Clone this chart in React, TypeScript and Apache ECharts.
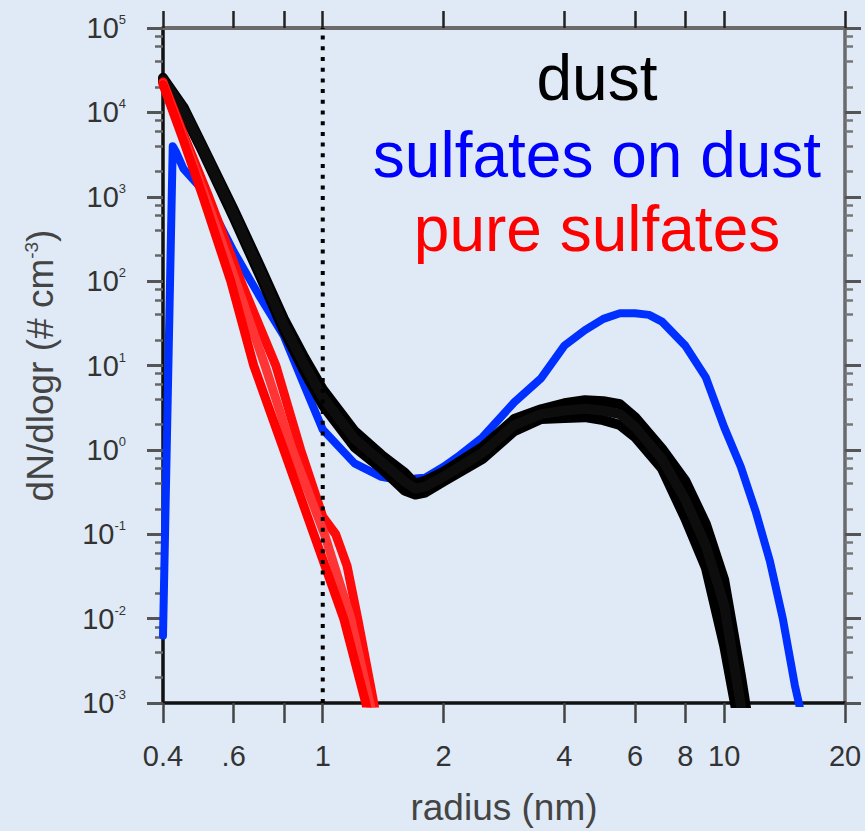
import React, { useEffect, useRef } from 'react';
import * as echarts from 'echarts';

// ---- axis ticks / labels ----
const xTickValues = [0.4, 0.6, 0.8, 1, 2, 4, 6, 8, 10, 20];
const xLabelValues = [0.4, 0.6, 1, 2, 4, 6, 8, 10, 20];
const xLabelTexts = ['0.4', '.6', '1', '2', '4', '6', '8', '10', '20'];
const yDecades = [-3, -2, -1, 0, 1, 2, 3, 4, 5];
const yMinorMultipliers = [2, 4, 6, 8];
const xMin = 0.4;
const xMax = 20;
const refRadius = 1;

// ---- dust (black ensemble) ----
const radiusDust = [0.4, 0.45, 0.5, 0.6, 0.7, 0.8, 0.9, 1.0, 1.2, 1.4, 1.6, 1.7, 1.8, 2.0, 2.5, 3, 3.5, 4, 4.5, 5, 5.5, 6, 7, 8, 9, 10, 11, 12];
const dustUpper = [2.57e4, 1.15e4, 4.17e3, 708, 146, 35.7, 12.4, 5.22, 1.67, 0.873, 0.536, 0.398, 0.431, 0.551, 1.08, 2.32, 3.03, 3.57, 3.87, 3.77, 3.47, 2.44, 1.03, 0.431, 0.133, 0.0288, 0.00214, 1.6e-4];
const dustMid = [2.44e4, 1.057e4, 3.87e3, 631, 127.6, 30.3, 10.2, 4.21, 1.35, 0.723, 0.421, 0.348, 0.367, 0.481, 0.923, 1.97, 2.65, 2.92, 3.08, 2.92, 2.65, 1.86, 0.78, 0.258, 0.0733, 0.0146, 9.5e-4, 5e-5];
const dustLower = [2.31e4, 9.75e3, 3.57e3, 566, 111, 25.8, 8.47, 3.39, 1.08, 0.598, 0.33, 0.296, 0.312, 0.421, 0.78, 1.67, 2.32, 2.38, 2.44, 2.25, 1.97, 1.42, 0.6, 0.154, 0.0404, 0.0048, 4.2e-4, 1.6e-5];

// ---- sulfates on dust (blue) ----
const radiusSod = [0.4, 0.423, 0.43, 0.45, 0.5, 0.6, 0.7, 0.8, 0.9, 1.0, 1.2, 1.4, 1.6, 1.7, 1.8, 2.0, 2.2, 2.5, 3, 3.5, 4, 4.5, 5, 5.5, 6, 6.5, 7, 8, 9, 10, 11, 12, 13, 14, 15, 16];
const sulfOnDust = [0.0063, 3.98e3, 3.47e3, 2.14e3, 1.23e3, 224, 63.1, 22.4, 5.75, 1.74, 0.692, 0.479, 0.427, 0.457, 0.468, 0.631, 0.871, 1.41, 3.67, 7.08, 17.2, 26.3, 35.7, 41.7, 41.7, 39.8, 33.1, 17.2, 7.23, 1.86, 0.631, 0.182, 0.0479, 0.01, 0.00162, 4.17e-4];

// ---- pure sulfates (red ensemble) ----
const radiusSulfA = [0.4, 0.45, 0.503, 0.59, 0.673, 0.8, 0.95, 1.128, 1.28, 1.33];
const pureSulfA = [2.14e4, 4.6e3, 1e3, 100, 10, 1, 0.1, 0.01, 0.001, 4e-4];
const radiusSulfB = [0.4, 0.45, 0.51, 0.607, 0.718, 0.84, 1.01, 1.175, 1.31, 1.37];
const pureSulfB = [2.2e4, 5e3, 1e3, 100, 10, 1, 0.1, 0.01, 0.001, 4e-4];
const radiusSulfC = [0.4, 0.45, 0.52, 0.625, 0.764, 0.881, 1.0, 1.077, 1.15, 1.222, 1.34, 1.4];
const pureSulfC = [2.3e4, 5.5e3, 1e3, 100, 10, 1, 0.162, 0.1, 0.042, 0.01, 0.001, 3e-4];

const legendTexts = ['dust', 'sulfates on dust', 'pure sulfates'];
const legendColors = ['#000000', '#0000ff', '#ff0000'];

const FONT = "'Liberation Sans', Arial, Helvetica, sans-serif";

const toXY = (rs: number[], vs: number[]) => rs.map((r, i) => [Math.log10(r), Math.log10(vs[i])]);

export default function App() {
  const ref = useRef<HTMLDivElement>(null);
  useEffect(() => {
    document.body.style.margin = '0';
    if (!ref.current) return;
    const chart = echarts.init(ref.current, undefined, { renderer: 'svg' });
    const lx0 = Math.log10(xMin);
    const lx1 = Math.log10(xMax);
    const xTicks = xTickValues.map((v) => Math.log10(v));
    const xLabs = xLabelValues.map((v) => Math.log10(v));
    const yMinor: number[] = [];
    yDecades.slice(0, -1).forEach((d) => yMinorMultipliers.forEach((m) => yMinor.push(d + Math.log10(m))));
    const xFmt = (v: number) => {
      const i = xLabs.findIndex((x) => Math.abs(x - v) < 1e-6);
      return i >= 0 ? xLabelTexts[i] : '';
    };
    const lineS = (name: string, data: number[][], color: string, width: number, z: number) => ({
      name,
      type: 'line',
      data,
      showSymbol: false,
      symbol: 'none',
      z,
      clip: true,
      lineStyle: { color, width, join: 'round', cap: 'round' },
    });
    const legendY = [78, 155, 229];
    chart.setOption({
      animation: false,
      backgroundColor: '#dfeaf6',
      grid: { left: 163, right: 20, top: 28, bottom: 123, containLabel: false },
      xAxis: [
        {
          type: 'value', position: 'bottom', min: lx0, max: lx1,
          axisLine: { show: true, onZero: false, lineStyle: { color: '#111', width: 3.5 } },
          axisTick: { show: true, customValues: xTicks, length: 20, lineStyle: { color: '#444', width: 2.5 } },
          axisLabel: { customValues: xLabs, formatter: xFmt, margin: 38, fontSize: 29, color: '#333', fontFamily: FONT },
          splitLine: { show: false },
          name: 'radius (nm)', nameLocation: 'middle', nameGap: 86,
          nameTextStyle: { fontSize: 37, color: '#444', fontFamily: FONT },
        },
        {
          type: 'value', position: 'top', min: lx0, max: lx1,
          axisLine: { show: true, onZero: false, lineStyle: { color: '#6a6a6a', width: 4 } },
          axisTick: { show: true, customValues: xTicks, length: 17, lineStyle: { color: '#222', width: 2.5 } },
          axisLabel: { show: false },
          splitLine: { show: false },
        },
      ],
      yAxis: [
        {
          type: 'value', position: 'left', min: -3, max: 5, interval: 1,
          axisLine: { show: true, onZero: false, lineStyle: { color: '#111', width: 3.5 } },
          axisTick: { show: true, length: 16, lineStyle: { color: '#555', width: 3 } },
          axisLabel: {
            margin: 37,
            formatter: (v: number) => `{b|10}{s|${Math.round(v)}}`,
            rich: {
              b: { fontSize: 29, color: '#333', fontFamily: FONT, lineHeight: 30 },
              s: { fontSize: 13, color: '#333', fontFamily: FONT, verticalAlign: 'top', lineHeight: 13 },
            },
          },
          splitLine: { show: false },
          name: 'dN/dlogr (# cm{s|-3})', nameLocation: 'middle', nameGap: 104, nameRotate: 90,
          nameTextStyle: {
            fontSize: 37, color: '#444', fontFamily: FONT,
            rich: { s: { fontSize: 19, color: '#444', fontFamily: FONT, verticalAlign: 'top', lineHeight: 19 } },
          },
        },
        {
          type: 'value', position: 'left', min: -3, max: 5,
          axisLine: { show: false, onZero: false },
          axisTick: { show: true, customValues: yMinor, length: 8, lineStyle: { color: '#666', width: 2.5 } },
          axisLabel: { show: false },
          splitLine: { show: false },
        },
        {
          type: 'value', position: 'right', min: -3, max: 5, interval: 1,
          axisLine: { show: true, onZero: false, lineStyle: { color: '#6a6a6a', width: 3.5 } },
          axisTick: { show: true, length: 16, lineStyle: { color: '#555', width: 3 } },
          axisLabel: { show: false },
          splitLine: { show: false },
        },
        {
          type: 'value', position: 'right', min: -3, max: 5,
          axisLine: { show: false, onZero: false },
          axisTick: { show: true, customValues: yMinor, length: 8, lineStyle: { color: '#777', width: 2.5 } },
          axisLabel: { show: false },
          splitLine: { show: false },
        },
      ],
      series: [
        lineS('sulfates on dust', toXY(radiusSod, sulfOnDust), '#0030ff', 8, 2),
        lineS('dust upper', toXY(radiusDust, dustUpper), '#000000', 10, 3),
        lineS('dust lower', toXY(radiusDust, dustLower), '#000000', 10, 3),
        lineS('dust', toXY(radiusDust, dustMid), '#0d0d0d', 10, 3),
        lineS('pure sulfates C', toXY(radiusSulfC, pureSulfC), '#ff0a0a', 9, 4),
        lineS('pure sulfates B', toXY(radiusSulfB, pureSulfB), '#ff3535', 9, 4),
        lineS('pure sulfates', toXY(radiusSulfA, pureSulfA), '#ff0000', 9, 4),
        {
          name: 'r = 1 nm', type: 'line', z: 6, showSymbol: false, symbol: 'none',
          data: [[Math.log10(refRadius), -3], [Math.log10(refRadius), 5]],
          lineStyle: { color: '#000', width: 4, type: [4, 6.7], cap: 'butt' },
        },
      ],
      graphic: legendTexts.map((t, i) => ({
        type: 'text', x: 597, y: legendY[i], z: 10,
        style: { text: t, fill: legendColors[i], font: `64px ${FONT}`, textAlign: 'center', textVerticalAlign: 'middle' },
      })),
    });
    return () => chart.dispose();
  }, []);
  return <div ref={ref} style={{ width: 865, height: 831 }} />;
}
